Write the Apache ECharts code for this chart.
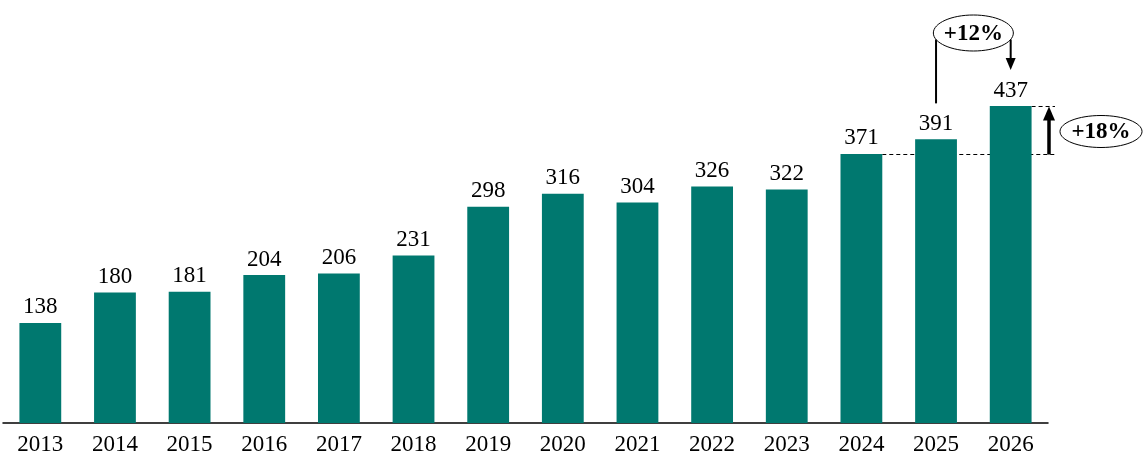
<!DOCTYPE html>
<html><head><meta charset="utf-8">
<script src="https://cdn.jsdelivr.net/npm/echarts@6/dist/echarts.min.js"></script>
<style>html,body{margin:0;padding:0;background:#fff}#c{width:1147px;height:460px}</style>
</head><body><div id="c"></div>
<script>
const years = ['2013','2014','2015','2016','2017','2018','2019','2020','2021','2022','2023','2024','2025','2026'];
const values = [138,180,181,204,206,231,298,316,304,326,322,371,391,437];
const growthYoY = '+12%';   // 2025 -> 2026
const growthTwoYr = '+18%'; // 2024 -> 2026

const FONT = '"Liberation Serif", "DejaVu Serif", serif';
const chart = echarts.init(document.getElementById('c'), null, {renderer: 'canvas'});
chart.setOption({
  animation: false,
  grid: {left: 3, right: 99, top: 3, bottom: 37, containLabel: false},
  xAxis: {
    type: 'category', data: years,
    axisLine: {lineStyle: {color: '#000', width: 1.5}},
    axisTick: {show: false},
    axisLabel: {color: '#000', fontFamily: FONT, fontSize: 23, margin: 10}
  },
  yAxis: {type: 'value', min: 0, max: 579, show: false, splitLine: {show: false}},
  series: [{
    type: 'bar', data: values, barWidth: '56%',
    itemStyle: {color: '#00786F'},
    label: {show: true, position: 'top', distance: 4, color: '#000', fontFamily: FONT, fontSize: 23}
  }]
});

function px(i, v) { return chart.convertToPixel({xAxisIndex: 0, yAxisIndex: 0}, [i, v]); }
const n = years.length;
const pLast = px(n - 1, values[n - 1]);
const pPrev = px(n - 2, values[n - 2]);
const pPrev2 = px(n - 3, values[n - 3]);
const step = pLast[0] - pPrev[0];
const halfBar = step * 0.28;
const yLast = Math.round(pLast[1]) + 0.5, yBase = Math.round(pPrev2[1]) + 0.5;
const axisEnd = pLast[0] + step / 2;
const arrowX = axisEnd + 1;
const dashEnd = axisEnd + 7;

const ell1 = {cx: (pPrev[0] + pLast[0]) / 2, cy: 33, rx: 40, ry: 18};
const ell2 = {cx: axisEnd + 53, cy: (yLast + yBase) / 2 + 1, rx: 41, ry: 16};
function ellY(e, x) { const d = (x - e.cx) / e.rx; return e.cy + e.ry * Math.sqrt(Math.max(0, 1 - d * d)); }

const black = '#000';
chart.setOption({
  graphic: [
    {type: 'line', shape: {x1: pPrev2[0] + halfBar, y1: yBase, x2: dashEnd, y2: yBase}, style: {stroke: black, lineWidth: 1, lineDash: [4, 3]}},
    {type: 'line', shape: {x1: pLast[0] + halfBar, y1: yLast, x2: dashEnd, y2: yLast}, style: {stroke: black, lineWidth: 1, lineDash: [4, 3]}},
    {type: 'line', shape: {x1: arrowX, y1: yBase, x2: arrowX, y2: yLast + 12}, style: {stroke: black, lineWidth: 3.5}},
    {type: 'polygon', shape: {points: [[arrowX - 6, yLast + 14], [arrowX + 6, yLast + 14], [arrowX, yLast]]}, style: {fill: black}},
    {type: 'ellipse', shape: {cx: ell2.cx, cy: ell2.cy, rx: ell2.rx, ry: ell2.ry}, style: {fill: '#fff', stroke: black, lineWidth: 1}},
    {type: 'text', x: ell2.cx, y: ell2.cy + 1, style: {text: growthTwoYr, font: 'bold 23px ' + FONT, fill: black, align: 'center', verticalAlign: 'middle'}},
    {type: 'line', shape: {x1: pPrev[0], y1: pPrev[1] - 36, x2: pPrev[0], y2: ellY(ell1, pPrev[0])}, style: {stroke: black, lineWidth: 2}},
    {type: 'line', shape: {x1: pLast[0], y1: ellY(ell1, pLast[0]), x2: pLast[0], y2: 60}, style: {stroke: black, lineWidth: 2}},
    {type: 'polygon', shape: {points: [[pLast[0] - 5, 58], [pLast[0] + 5, 58], [pLast[0], 70]]}, style: {fill: black}},
    {type: 'ellipse', shape: {cx: ell1.cx, cy: ell1.cy, rx: ell1.rx, ry: ell1.ry}, style: {fill: '#fff', stroke: black, lineWidth: 1}},
    {type: 'text', x: ell1.cx, y: ell1.cy + 1, style: {text: growthYoY, font: 'bold 23px ' + FONT, fill: black, align: 'center', verticalAlign: 'middle'}}
  ]
});
</script></body></html>
